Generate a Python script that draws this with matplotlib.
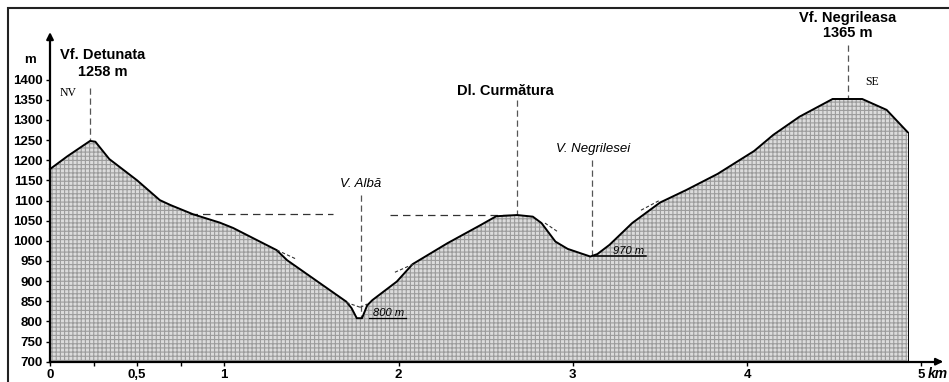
import matplotlib
matplotlib.use("Agg")
import matplotlib.pyplot as plt
from matplotlib.patches import Rectangle

# profile: distance (km) / altitude (m)
dist_km = [0.0, 0.10, 0.23, 0.26, 0.34, 0.50, 0.63, 0.69, 0.82, 0.975, 1.05, 1.30, 1.36,
           1.70, 1.73, 1.76, 1.79, 1.82, 1.85, 1.99, 2.08, 2.28, 2.47, 2.56, 2.68,
           2.77, 2.82, 2.90, 2.97, 3.10, 3.14, 3.21, 3.34, 3.50, 3.65, 3.83, 4.04,
           4.15, 4.30, 4.49, 4.66, 4.80, 4.92]
elev_m = [1178, 1210, 1248, 1246, 1203, 1150, 1101, 1089, 1066, 1045, 1032, 977, 952,
          849, 833, 808, 808, 840, 853, 899, 942, 994, 1039, 1061, 1064,
          1060, 1044, 998, 980, 961, 967, 990, 1044, 1095, 1126, 1166, 1223,
          1263, 1308, 1352, 1352, 1325, 1270]

y_ticks = [700, 750, 800, 850, 900, 950, 1000, 1050, 1100, 1150, 1200, 1250, 1300, 1350, 1400]
x_ticks = [0, 0.25, 0.5, 0.75, 1, 2, 3, 4, 5]
x_labels = ['0', '', '0,5', '', '1', '2', '3', '4', '5']

# (text, km, m, style)
labels = [
    ("Vf. Detunata", 0.304, 1461, 'bold'),
    ("1258 m", 0.304, 1420, 'bold'),
    ("Dl. Curmătura", 2.61, 1372, 'bold'),
    ("Vf. Negrileasa", 4.578, 1553, 'bold'),
    ("1365 m", 4.578, 1516, 'bold'),
    ("V. Albă", 1.784, 1141, 'italic'),
    ("V. Negrilesei", 3.115, 1228, 'italic'),
]

# vertical marker lines: km, from m, to m
markers = [(0.229, 1379, 1250), (2.68, 1349, 1066), (3.11, 1201, 962),
           (1.784, 1113, 808), (4.578, 1486, 1354)]

plt.rcParams['font.family'] = ['Liberation Sans', 'DejaVu Sans']
plt.rcParams['hatch.linewidth'] = 0.8

fig = plt.figure(figsize=(9.49, 3.82), dpi=100)
ax = fig.add_axes([0, 0, 1, 1])
ax.set_xlim(-0.287, 5.158)
ax.set_ylim(649.6, 1597.7)

x_end = dist_km[-1]
ax.fill_between(dist_km, 700, elev_m, facecolor='#dcdcdc', edgecolor='#9c9c9c',
                hatch='++++', linewidth=0, zorder=1)
ax.plot(dist_km, elev_m, color='black', lw=1.4, zorder=3)
ax.plot([x_end, x_end], [elev_m[-1], 700], color='black', lw=0.7, zorder=3)

for k in ['top', 'right']:
    ax.spines[k].set_visible(False)
ax.spines['left'].set_position(('data', 0))
ax.spines['bottom'].set_position(('data', 700))
ax.spines['left'].set_bounds(700, 1500)
ax.spines['bottom'].set_bounds(0, 5.1)
ax.spines['left'].set_linewidth(1.6)
ax.spines['bottom'].set_linewidth(1.6)
ax.annotate('', xy=(0, 1525), xytext=(0, 1490),
            arrowprops=dict(arrowstyle='-|>', color='black', lw=1.6, mutation_scale=10))
ax.annotate('', xy=(5.14, 700), xytext=(5.08, 700),
            arrowprops=dict(arrowstyle='-|>', color='black', lw=1.6, mutation_scale=10))

ax.set_yticks(y_ticks)
ax.set_xticks(x_ticks)
ax.set_xticklabels(x_labels)
ax.tick_params(axis='both', direction='out', length=3, width=1, labelsize=9.5, pad=2)
for t in ax.get_xticklabels() + ax.get_yticklabels():
    t.set_fontweight('bold')

ax.text(-0.115, 1449, 'm', fontsize=9.5, fontweight='bold', ha='center', va='center')
ax.text(5.035, 670, 'km', fontsize=10, fontweight='bold', style='italic', ha='left', va='center')

for txt, xk, ym, st in labels:
    if st == 'bold':
        ax.text(xk, ym, txt, fontsize=10.5, fontweight='bold', ha='center', va='center')
    else:
        ax.text(xk, ym, txt, fontsize=9.5, style='italic', ha='center', va='center')

ax.text(0.103, 1367, 'NV', fontsize=8.5, family='Liberation Serif', ha='center', va='center')
ax.text(4.716, 1394, 'SE', fontsize=8.5, family='Liberation Serif', ha='center', va='center')

for xk, y0, y1 in markers:
    ax.plot([xk, xk], [y0, y1], ls=(0, (5, 3)), color='#555555', lw=0.9, zorder=2)

# horizontal reference dashes
ax.plot([0.803, 1.624], [1066, 1066], ls=(0, (6, 4)), color='#333333', lw=0.9)
ax.plot([1.951, 2.668], [1064, 1064], ls=(0, (6, 4)), color='#333333', lw=0.9)

# small slope dashes
for xs, ys in [([1.302, 1.411], [977, 955]), ([1.979, 2.083], [922, 942]),
               ([2.84, 2.915], [1044, 1022]), ([3.391, 3.50], [1076, 1101]),
               ([1.70, 1.78], [847, 835]), ([1.78, 1.82], [835, 843])]:
    ax.plot(xs, ys, ls=(0, (3, 2)), color='#333333', lw=0.8, zorder=4)

# valley bottoms
ax.text(1.94, 820, '800 m', fontsize=8, style='italic', ha='center', va='center', zorder=5)
ax.plot([1.83, 2.04], [808, 808], color='black', lw=0.9, zorder=5)
ax.text(3.32, 975, '970 m', fontsize=8, style='italic', ha='center', va='center', zorder=5)
ax.plot([3.12, 3.42], [962, 962], color='black', lw=1.1, zorder=5)

fig.patches.append(Rectangle((8 / 949, -0.05), 1.1, 1 - 8 / 382 + 0.05,
                             transform=fig.transFigure, fill=False,
                             edgecolor='#222222', lw=1.5))

fig.savefig('out.png', dpi=100)
